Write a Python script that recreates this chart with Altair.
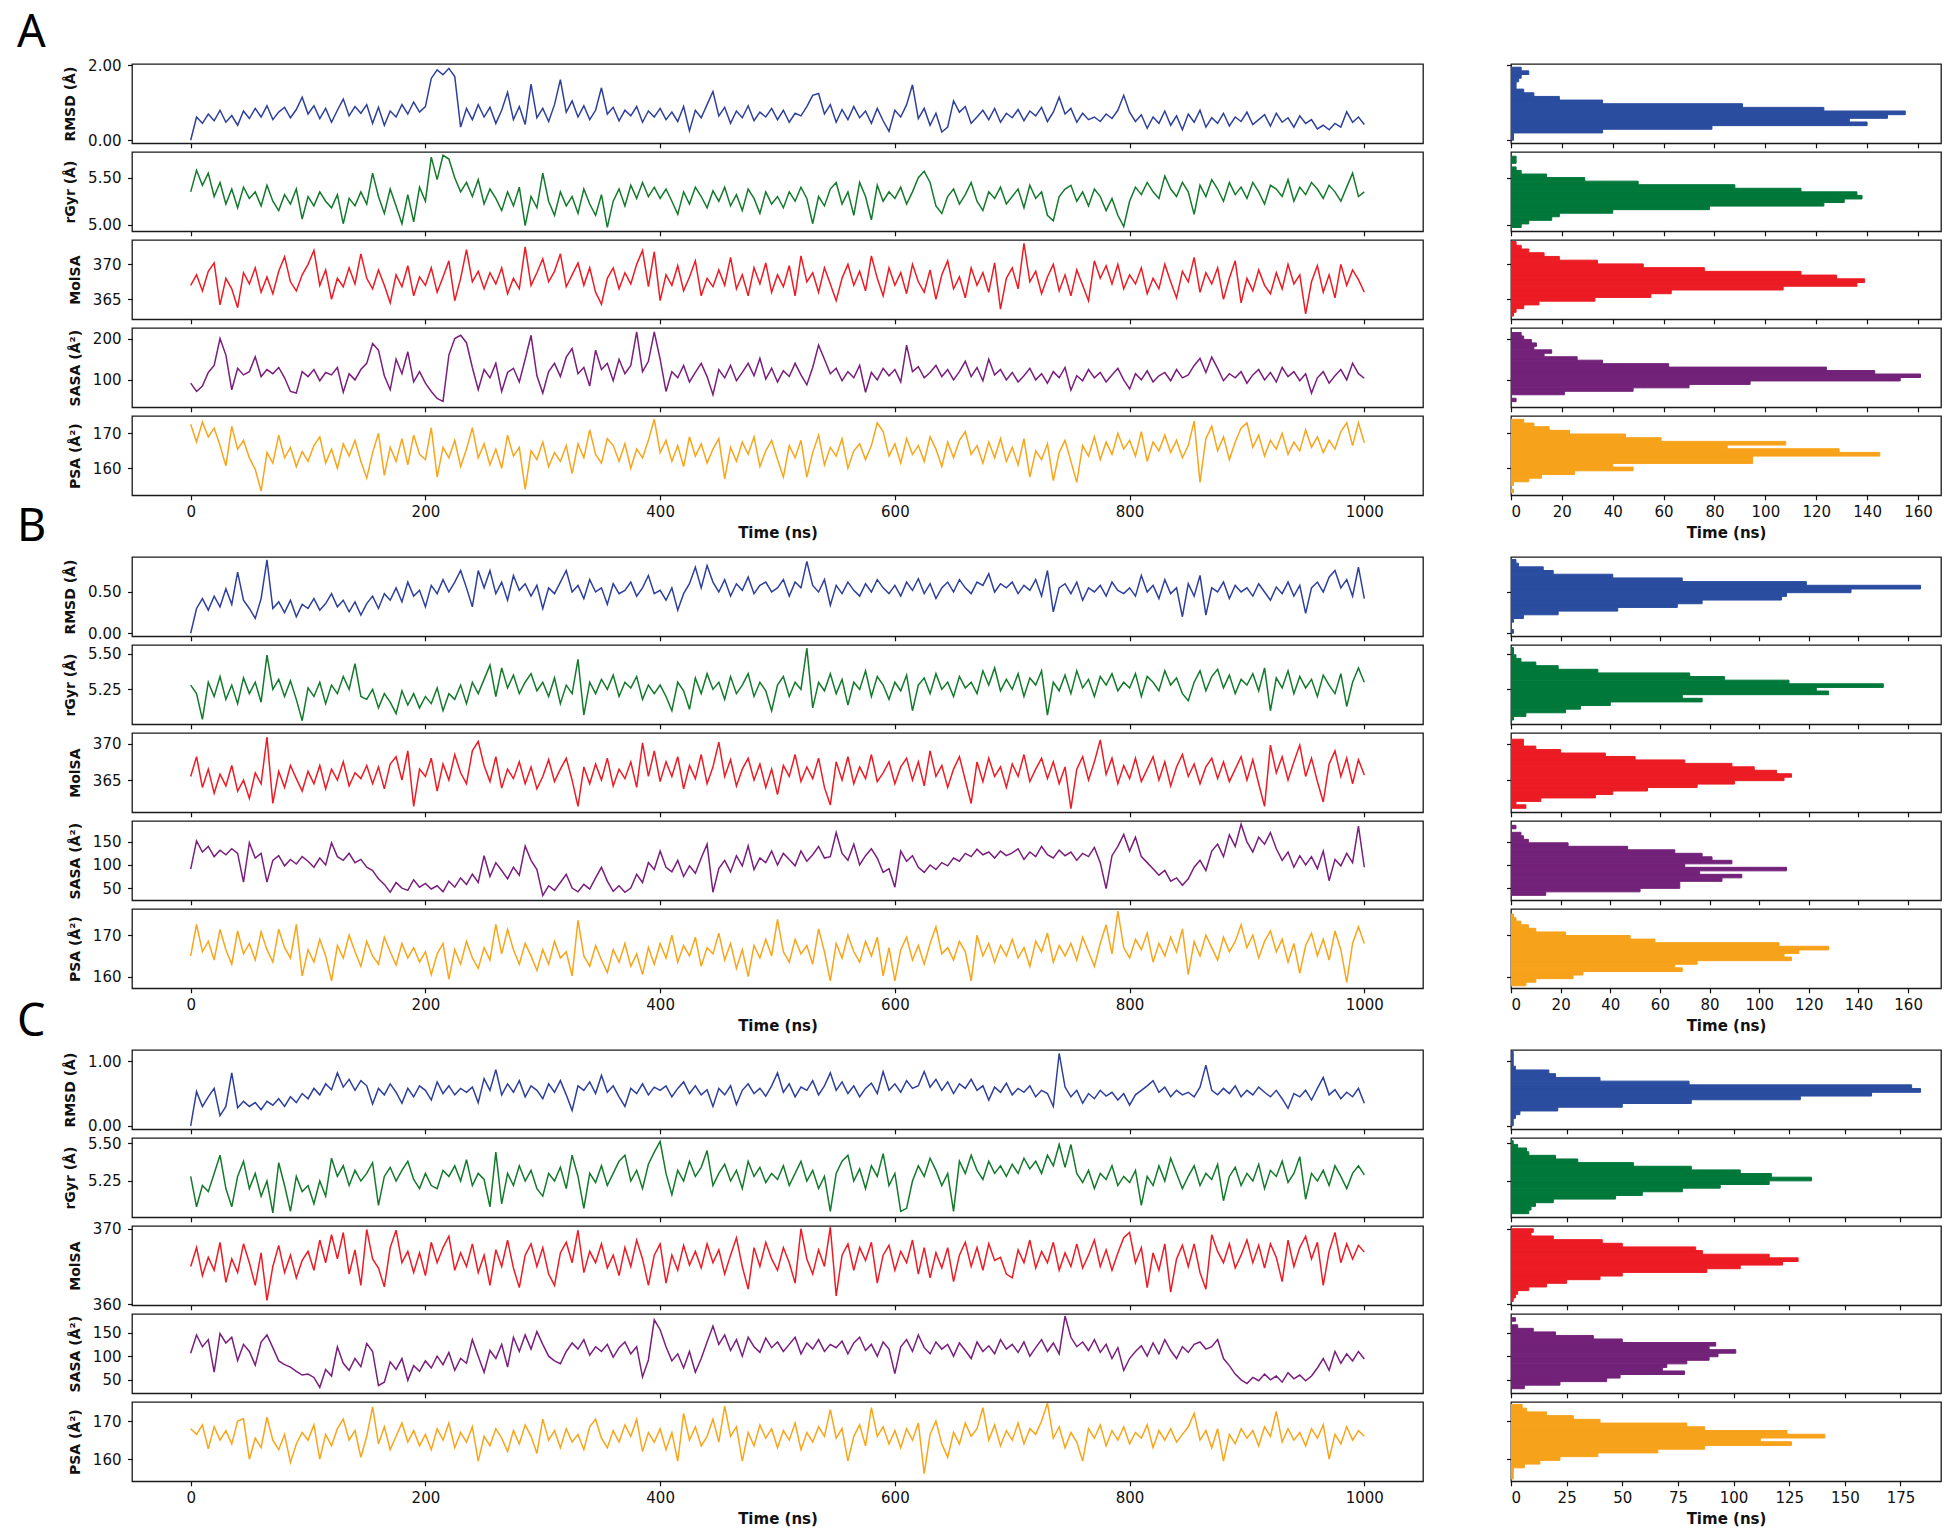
import altair as alt
import pandas as pd

# ---------------- time series (every 5 ns, 0..1000 ns) ----------------
A_RMSD = [
 0.00, 0.62, 0.45, 0.70, 0.52, 0.80, 0.48, 0.66, 0.40, 0.78,
 0.58, 0.85, 0.62, 0.92, 0.55, 0.75, 0.88, 0.60, 0.82, 1.15,
 0.70, 0.92, 0.58, 0.85, 0.48, 0.80, 1.10, 0.65, 0.90, 0.72,
 0.95, 0.45, 0.88, 0.40, 0.78, 0.62, 0.95, 0.70, 1.02, 0.75,
 0.90, 1.65, 1.88, 1.75, 1.92, 1.70, 0.35, 0.85, 0.55, 0.95,
 0.62, 0.88, 0.45, 0.80, 1.28, 0.55, 0.90, 0.42, 1.50, 0.60,
 0.85, 0.50, 0.95, 1.62, 0.75, 1.05, 0.62, 0.92, 0.55, 0.80,
 1.40, 0.70, 0.88, 0.52, 0.80, 0.65, 0.90, 0.48, 0.78, 0.62,
 0.85, 0.55, 0.75, 0.50, 0.90, 0.25, 0.80, 0.60, 0.95, 1.30,
 0.65, 0.88, 0.45, 0.78, 0.60, 0.92, 0.52, 0.75, 0.62, 0.85,
 0.55, 0.80, 0.48, 0.72, 0.65, 0.90, 1.20, 1.25, 0.70, 0.95,
 0.48, 0.82, 0.55, 0.90, 0.60, 0.78, 0.45, 0.85, 0.52, 0.24,
 0.80, 0.62, 0.95, 1.48, 0.58, 0.85, 0.40, 0.72, 0.22, 0.35,
 1.05, 0.75, 0.90, 0.45, 0.62, 0.80, 0.55, 0.85, 0.48, 0.72,
 0.60, 0.82, 0.52, 0.78, 0.65, 0.88, 0.50, 0.75, 1.15, 0.70,
 0.85, 0.48, 0.72, 0.55, 0.62, 0.50, 0.70, 0.58, 0.80, 1.20,
 0.75, 0.50, 0.68, 0.32, 0.62, 0.45, 0.78, 0.40, 0.65, 0.28,
 0.70, 0.48, 0.80, 0.35, 0.60, 0.45, 0.72, 0.38, 0.62, 0.50,
 0.75, 0.42, 0.55, 0.68, 0.38, 0.72, 0.48, 0.60, 0.35, 0.65,
 0.45, 0.55, 0.30, 0.40, 0.28, 0.45, 0.35, 0.76, 0.48, 0.62,
 0.42]
A_RGYR = [
 5.35, 5.58, 5.42, 5.55, 5.30, 5.45, 5.22, 5.38, 5.18, 5.40,
 5.28, 5.35, 5.20, 5.42, 5.25, 5.15, 5.32, 5.22, 5.38, 5.06,
 5.30, 5.20, 5.35, 5.25, 5.18, 5.32, 5.01, 5.28, 5.20, 5.35,
 5.22, 5.55, 5.30, 5.12, 5.38, 5.20, 5.01, 5.32, 5.03, 5.40,
 5.25, 5.72, 5.48, 5.74, 5.70, 5.50, 5.35, 5.45, 5.30, 5.48,
 5.22, 5.38, 5.28, 5.15, 5.35, 5.20, 5.40, 4.99, 5.30, 5.18,
 5.55, 5.25, 5.10, 5.35, 5.20, 5.30, 5.12, 5.38, 5.22, 5.10,
 5.32, 4.97, 5.25, 5.38, 5.20, 5.42, 5.28, 5.45, 5.30, 5.40,
 5.28, 5.38, 5.25, 5.11, 5.35, 5.22, 5.40, 5.30, 5.18, 5.36,
 5.25, 5.40, 5.20, 5.32, 5.15, 5.38, 5.28, 5.12, 5.35, 5.22,
 5.30, 5.18, 5.35, 5.25, 5.40, 5.28, 5.01, 5.30, 5.20, 5.38,
 5.45, 5.22, 5.35, 5.10, 5.45, 5.30, 5.05, 5.42, 5.25, 5.35,
 5.28, 5.40, 5.22, 5.35, 5.50, 5.57, 5.45, 5.20, 5.12, 5.30,
 5.38, 5.22, 5.32, 5.45, 5.25, 5.15, 5.35, 5.28, 5.40, 5.22,
 5.30, 5.38, 5.18, 5.42, 5.28, 5.35, 5.10, 5.04, 5.30, 5.38,
 5.42, 5.25, 5.35, 5.20, 5.38, 5.30, 5.15, 5.28, 5.10, 4.98,
 5.25, 5.40, 5.32, 5.45, 5.35, 5.28, 5.52, 5.38, 5.30, 5.45,
 5.35, 5.11, 5.42, 5.30, 5.48, 5.38, 5.25, 5.45, 5.32, 5.40,
 5.28, 5.45, 5.35, 5.22, 5.42, 5.38, 5.30, 5.48, 5.25, 5.40,
 5.32, 5.45, 5.38, 5.28, 5.42, 5.35, 5.25, 5.40, 5.55, 5.30,
 5.35]
A_MOLSA = [
 367.0, 368.5, 366.2, 369.0, 370.2, 364.2, 368.0, 366.5, 363.8, 368.8,
 367.2, 369.5, 366.0, 368.2, 365.8, 369.0, 371.1, 367.5, 366.2, 368.5,
 370.0, 372.0, 367.0, 369.2, 365.0, 368.0, 366.8, 369.5, 367.2, 371.5,
 368.0, 366.5, 369.2, 367.0, 364.5, 368.5, 366.8, 369.8, 365.5, 368.2,
 367.0, 369.5, 366.0, 368.2, 370.5, 364.8, 368.0, 372.1, 367.5, 369.0,
 366.5, 368.8, 367.2, 369.5, 365.8, 368.0, 366.5, 372.5, 367.0, 368.8,
 370.8, 367.5, 369.0, 371.5, 366.8, 368.5, 370.2, 367.0, 369.5, 366.0,
 364.3, 368.0, 369.5, 366.5, 368.8, 367.2, 370.0, 372.0, 366.8, 371.8,
 364.8, 368.5, 367.0, 369.8, 366.2, 368.2, 370.5, 365.5, 368.0, 366.8,
 369.2, 367.0, 371.0, 366.5, 368.5, 365.5, 369.5, 367.2, 370.2, 366.0,
 368.5, 366.8, 369.8, 365.5, 371.2, 367.5, 368.8, 366.0, 369.5, 367.2,
 364.8, 368.0, 370.0, 367.0, 369.0, 366.2, 371.2, 368.0, 365.5, 369.5,
 367.0, 368.8, 365.8, 370.0, 367.5, 366.0, 369.2, 365.0, 368.5, 370.5,
 366.5, 368.2, 365.2, 369.5, 367.0, 368.8, 366.0, 370.2, 363.6, 368.0,
 369.5, 366.5, 373.0, 367.5, 369.0, 365.8, 368.2, 370.0, 366.2, 368.5,
 365.5, 369.2, 367.0, 364.8, 370.5, 368.0, 369.8, 367.2, 370.0, 366.5,
 368.5, 367.2, 369.5, 365.8, 368.0, 366.5, 370.0, 367.5, 365.2, 369.0,
 367.5, 371.0, 366.0, 368.8, 367.2, 369.5, 365.0, 368.0, 370.5, 364.5,
 368.0, 366.2, 369.2, 367.0, 365.8, 368.8, 366.5, 370.0, 367.2, 368.5,
 362.9, 367.5, 369.8, 366.0, 368.5, 365.2, 370.0, 367.0, 369.2, 367.8,
 366.0]
A_SASA = [
 92, 72, 85, 118, 135, 200, 160, 76, 128, 112,
 120, 156, 108, 125, 115, 130, 105, 72, 68, 120,
 108, 125, 98, 118, 112, 130, 70, 115, 100, 125,
 140, 188, 172, 110, 76, 150, 115, 168, 95, 120,
 92, 72, 55, 48, 160, 200, 208, 190, 130, 76,
 125, 105, 140, 72, 118, 128, 95, 150, 208, 110,
 68, 120, 140, 108, 155, 176, 115, 130, 85, 172,
 125, 140, 98, 150, 115, 135, 216, 120, 145, 216,
 150, 72, 120, 105, 135, 95, 118, 140, 108, 64,
 125, 105, 135, 98, 118, 140, 110, 152, 102, 128,
 95, 122, 108, 140, 112, 88, 130, 184, 150, 115,
 128, 98, 120, 105, 135, 70, 118, 100, 128, 110,
 125, 95, 184, 120, 132, 105, 118, 135, 108, 125,
 100, 120, 145, 108, 130, 98, 150, 112, 125, 100,
 118, 95, 110, 128, 100, 115, 92, 120, 105, 130,
 75, 110, 98, 125, 105, 118, 95, 112, 128, 100,
 78, 115, 100, 122, 95, 110, 118, 98, 125, 105,
 112, 135, 152, 118, 155, 128, 98, 115, 105, 120,
 92, 112, 125, 100, 118, 95, 130, 108, 120, 98,
 115, 68, 105, 120, 92, 110, 125, 100, 140, 115,
 104]
A_PSA = [
 172.6, 167.5, 173.2, 169.0, 171.5, 166.5, 160.7, 172.0, 165.5, 168.0,
 163.0, 159.7, 153.5, 164.5, 161.5, 169.5, 163.0, 166.0, 160.5, 164.8,
 162.0, 166.5, 169.0, 161.5, 165.5, 160.0, 167.0, 163.5, 168.0, 162.0,
 157.2, 164.5, 170.0, 158.0, 166.0, 162.0, 168.5, 161.0, 169.5, 164.0,
 162.5, 171.6, 157.5, 166.0, 163.0, 168.0, 160.5, 165.5, 171.6, 163.0,
 167.0, 161.0, 165.5, 160.0, 169.5, 163.5, 166.0, 154.0, 165.0, 162.5,
 167.5, 160.5, 164.5, 162.0, 166.5, 158.5, 167.0, 163.0, 171.0, 164.0,
 161.5, 168.5, 166.5, 162.0, 167.0, 160.0, 165.5, 163.0, 168.0, 174.0,
 164.5, 168.0, 162.0, 166.5, 160.5, 169.0, 163.5, 167.0, 161.5, 165.5,
 168.5, 157.0, 166.0, 162.0, 167.5, 164.0, 169.0, 160.5, 165.0, 168.0,
 162.5, 157.5, 166.5, 163.0, 168.0, 157.5, 164.5, 169.5, 161.0, 166.0,
 163.5, 168.5, 160.0, 165.0, 167.0, 162.5, 166.5, 173.0, 170.5, 163.5,
 167.0, 161.5, 168.5, 164.0, 166.5, 162.0, 169.0, 165.5, 160.5, 167.5,
 163.0, 168.0, 170.5, 164.0, 166.5, 161.5, 167.5, 163.0, 168.5, 162.0,
 166.0, 161.0, 168.5, 157.5, 165.0, 162.5, 167.0, 156.5, 164.5, 168.0,
 162.0, 156.0, 166.5, 163.5, 169.0, 162.5, 167.5, 164.0, 170.0, 165.5,
 168.0, 163.5, 170.5, 162.0, 167.5, 165.0, 169.5, 164.5, 168.0, 163.0,
 166.5, 173.5, 156.0, 168.5, 172.0, 165.0, 169.0, 162.5, 167.5, 171.5,
 173.0, 166.0, 169.5, 163.5, 168.0, 165.5, 170.0, 164.0, 167.5, 165.0,
 171.0, 166.0, 169.0, 164.5, 168.0, 165.5, 170.5, 173.0, 166.5, 173.0,
 167.3]

B_RMSD = [
 0.00, 0.30, 0.42, 0.28, 0.45, 0.32, 0.54, 0.35, 0.74, 0.40,
 0.30, 0.18, 0.42, 0.89, 0.30, 0.38, 0.25, 0.40, 0.20, 0.35,
 0.30, 0.42, 0.28, 0.36, 0.48, 0.32, 0.40, 0.26, 0.38, 0.22,
 0.36, 0.45, 0.30, 0.48, 0.40, 0.55, 0.38, 0.62, 0.45, 0.52,
 0.32, 0.58, 0.48, 0.65, 0.50, 0.62, 0.76, 0.55, 0.32, 0.76,
 0.55, 0.76, 0.48, 0.62, 0.40, 0.70, 0.52, 0.60, 0.45, 0.58,
 0.30, 0.55, 0.48, 0.62, 0.76, 0.50, 0.58, 0.42, 0.65, 0.50,
 0.55, 0.35, 0.60, 0.48, 0.52, 0.62, 0.45, 0.55, 0.70, 0.48,
 0.52, 0.40, 0.55, 0.28, 0.48, 0.60, 0.80, 0.55, 0.82, 0.62,
 0.50, 0.65, 0.45, 0.60, 0.52, 0.68, 0.48, 0.58, 0.62, 0.50,
 0.55, 0.65, 0.45, 0.62, 0.55, 0.87, 0.58, 0.50, 0.65, 0.34,
 0.58, 0.48, 0.62, 0.52, 0.45, 0.60, 0.50, 0.65, 0.55, 0.48,
 0.58, 0.45, 0.62, 0.52, 0.66, 0.48, 0.60, 0.42, 0.55, 0.62,
 0.50, 0.65, 0.55, 0.48, 0.62, 0.58, 0.72, 0.50, 0.60, 0.55,
 0.62, 0.48, 0.58, 0.52, 0.65, 0.45, 0.76, 0.26, 0.55, 0.60,
 0.48, 0.62, 0.40, 0.55, 0.50, 0.58, 0.45, 0.62, 0.52, 0.48,
 0.55, 0.45, 0.70, 0.50, 0.58, 0.42, 0.65, 0.48, 0.55, 0.20,
 0.60, 0.45, 0.70, 0.22, 0.55, 0.50, 0.62, 0.42, 0.58, 0.50,
 0.55, 0.45, 0.60, 0.50, 0.40, 0.56, 0.48, 0.62, 0.45, 0.58,
 0.24, 0.55, 0.62, 0.50, 0.68, 0.76, 0.55, 0.65, 0.45, 0.80,
 0.42]
B_RGYR = [
 5.28, 5.22, 5.04, 5.30, 5.20, 5.34, 5.18, 5.28, 5.15, 5.33,
 5.22, 5.30, 5.16, 5.49, 5.25, 5.32, 5.20, 5.31, 5.18, 5.03,
 5.26, 5.20, 5.30, 5.15, 5.28, 5.22, 5.34, 5.25, 5.43, 5.20,
 5.18, 5.25, 5.12, 5.22, 5.16, 5.08, 5.24, 5.14, 5.22, 5.12,
 5.20, 5.15, 5.26, 5.10, 5.22, 5.18, 5.28, 5.15, 5.30, 5.22,
 5.32, 5.42, 5.20, 5.40, 5.26, 5.35, 5.22, 5.30, 5.36, 5.24,
 5.30, 5.20, 5.33, 5.15, 5.28, 5.22, 5.46, 5.07, 5.30, 5.22,
 5.32, 5.25, 5.35, 5.20, 5.30, 5.26, 5.34, 5.18, 5.28, 5.22,
 5.28, 5.20, 5.10, 5.30, 5.24, 5.11, 5.33, 5.22, 5.36, 5.25,
 5.30, 5.18, 5.34, 5.22, 5.28, 5.36, 5.20, 5.30, 5.24, 5.10,
 5.28, 5.34, 5.20, 5.30, 5.25, 5.54, 5.12, 5.30, 5.24, 5.36,
 5.22, 5.32, 5.14, 5.30, 5.25, 5.38, 5.20, 5.34, 5.28, 5.18,
 5.30, 5.24, 5.35, 5.10, 5.28, 5.33, 5.22, 5.36, 5.25, 5.30,
 5.20, 5.34, 5.26, 5.30, 5.22, 5.38, 5.28, 5.40, 5.24, 5.32,
 5.25, 5.36, 5.20, 5.33, 5.28, 5.38, 5.07, 5.30, 5.24, 5.35,
 5.22, 5.38, 5.26, 5.32, 5.20, 5.34, 5.28, 5.36, 5.24, 5.30,
 5.26, 5.36, 5.20, 5.34, 5.30, 5.24, 5.38, 5.28, 5.33, 5.22,
 5.17, 5.30, 5.38, 5.24, 5.34, 5.39, 5.26, 5.35, 5.22, 5.32,
 5.28, 5.36, 5.24, 5.40, 5.10, 5.33, 5.26, 5.38, 5.22, 5.34,
 5.26, 5.32, 5.20, 5.35, 5.28, 5.22, 5.36, 5.13, 5.30, 5.40,
 5.30]
B_MOLSA = [
 365.5, 368.2, 364.0, 366.5, 363.2, 365.8, 364.2, 367.0, 363.5, 365.0,
 362.5, 366.0, 364.5, 370.9, 361.8, 366.2, 364.0, 367.0, 365.2, 363.5,
 366.2, 364.5, 367.0, 363.8, 366.5, 365.0, 367.5, 364.2, 366.0, 365.2,
 367.0, 364.5, 366.8, 363.8, 367.2, 368.2, 365.0, 369.0, 361.4, 366.5,
 365.5, 368.0, 363.5, 367.2, 365.0, 368.5, 366.0, 364.5, 369.0, 370.3,
 367.0, 364.8, 368.2, 363.9, 366.5, 365.2, 367.5, 364.5, 366.8, 363.8,
 365.5, 367.8, 364.8, 366.5, 368.0, 365.0, 361.4, 366.8, 364.5, 367.2,
 365.0, 368.0, 364.2, 366.5, 365.2, 367.5, 364.0, 370.1, 365.5, 369.0,
 364.8, 367.5, 365.5, 368.2, 363.8, 367.0, 365.2, 368.5, 364.5, 366.8,
 370.2, 365.5, 367.8, 364.2, 366.5, 368.0, 365.0, 367.2, 364.0, 366.5,
 363.0, 367.0, 365.5, 368.5, 364.8, 366.8, 365.2, 368.0, 364.0, 361.6,
 367.5, 365.0, 368.2, 364.5, 366.8, 365.2, 368.5, 364.8, 366.0, 367.5,
 364.5, 366.8, 368.0, 365.0, 367.5, 364.2, 369.0, 365.5, 367.0, 364.0,
 366.5, 368.2, 365.0, 361.8, 367.5, 364.8, 368.0, 365.5, 366.8, 364.0,
 367.2, 365.5, 368.5, 364.8, 366.5, 368.0, 365.2, 367.5, 364.5, 366.8,
 361.1, 366.5, 368.2, 365.0, 367.5, 370.5, 365.8, 368.0, 364.5, 367.0,
 365.2, 368.0, 364.8, 366.5, 368.2, 365.0, 367.5, 364.2, 366.8, 368.5,
 365.5, 367.2, 364.5, 366.8, 368.0, 365.2, 367.5, 364.8, 366.5, 368.2,
 365.0, 367.8, 364.5, 361.4, 369.8, 366.0, 368.2, 365.0, 367.5, 369.8,
 365.5, 368.0, 364.8, 362.0, 367.2, 369.0, 365.5, 368.0, 364.5, 367.8,
 365.7]
B_SASA = [
 91, 152, 128, 140, 118, 132, 122, 135, 125, 63,
 148, 115, 125, 63, 110, 120, 98, 112, 102, 118,
 108, 95, 115, 100, 148, 118, 110, 125, 105, 112,
 95, 88, 70, 58, 41, 62, 50, 45, 68, 52,
 60, 48, 55, 42, 65, 52, 72, 58, 80, 62,
 120, 75, 105, 88, 70, 95, 78, 141, 110, 90,
 34, 55, 45, 62, 80, 50, 42, 58, 48, 72,
 95, 65, 43, 55, 41, 50, 80, 62, 105, 90,
 130, 95, 85, 110, 75, 98, 82, 115, 145, 41,
 92, 110, 85, 120, 98, 141, 90, 115, 105, 130,
 100, 125, 112, 98, 130, 108, 122, 140, 115, 118,
 170, 125, 110, 145, 100, 120, 135, 115, 84, 92,
 52, 130, 108, 120, 95, 84, 100, 90, 105, 98,
 115, 108, 125, 118, 134, 122, 128, 115, 130, 120,
 126, 135, 112, 128, 118, 140, 122, 115, 132, 120,
 128, 110, 125, 118, 138, 105, 49, 120, 140, 166,
 130, 160, 118, 105, 92, 78, 88, 65, 72, 56,
 70, 95, 110, 88, 130, 145, 118, 165, 140, 188,
 150, 128, 160, 145, 170, 135, 110, 128, 95, 120,
 100, 118, 92, 130, 66, 112, 98, 125, 105, 184,
 95]
B_PSA = [
 165.0, 172.6, 166.0, 168.5, 164.0, 171.4, 166.5, 163.0, 171.0, 165.5,
 168.0, 164.0, 170.8, 166.5, 163.5, 171.4, 167.0, 164.5, 172.6, 160.2,
 166.5, 163.5, 169.0, 165.0, 159.0, 167.5, 164.5, 170.0, 166.0, 162.5,
 168.5, 165.0, 163.0, 169.5, 166.0, 162.8, 168.0, 164.5, 167.0, 163.5,
 166.0, 160.5, 165.5, 168.0, 159.4, 166.5, 163.0, 168.5, 164.5, 162.0,
 167.0, 164.0, 172.6, 165.5, 171.4, 166.5, 163.0, 168.0, 165.0, 161.5,
 166.5, 163.0, 168.5, 164.5, 166.0, 160.2, 173.6, 165.0, 162.5, 167.5,
 164.0, 161.0, 166.5, 163.5, 168.0, 162.5, 165.5, 160.5, 167.0, 163.0,
 168.0, 164.5, 170.0, 163.5, 167.5, 165.0, 169.5, 162.5, 167.0, 165.5,
 170.5, 164.0, 168.0, 162.0, 166.5, 160.0, 167.5, 164.5, 169.0, 165.0,
 173.8, 166.0, 163.5, 169.0, 165.5, 167.5, 163.0, 171.5, 166.0, 159.0,
 168.0, 164.5, 170.0, 166.0, 163.5, 168.5, 165.0, 169.5, 160.2, 167.0,
 159.0, 166.5, 169.5, 164.0, 167.5, 163.0, 168.0, 172.0, 165.5, 167.0,
 164.0, 168.5, 166.0, 159.0, 170.0, 165.0, 168.0, 163.5, 167.5, 165.0,
 169.0, 164.5, 167.0, 162.5, 168.5, 166.0, 170.5, 163.5, 167.5, 165.0,
 168.0, 164.0, 169.5, 166.0, 162.5, 168.0, 172.5, 165.5, 175.8, 167.0,
 164.5, 169.0, 166.5, 170.5, 163.5, 168.0, 165.0, 169.5, 166.0, 171.5,
 160.5, 168.5, 165.0, 170.0, 167.0, 164.0, 169.5, 166.0, 168.5, 172.5,
 167.0, 170.0, 164.5, 168.5, 171.0, 166.0, 169.0, 163.5, 168.0, 160.8,
 167.5, 170.5, 165.0, 169.0, 164.0, 171.0, 166.5, 158.6, 168.0, 172.0,
 168.0]

C_RMSD = [
 0.00, 0.53, 0.30, 0.45, 0.58, 0.16, 0.30, 0.82, 0.28, 0.38,
 0.30, 0.36, 0.25, 0.38, 0.32, 0.42, 0.30, 0.45, 0.36, 0.50,
 0.42, 0.58, 0.48, 0.65, 0.56, 0.82, 0.60, 0.72, 0.55, 0.70,
 0.62, 0.34, 0.58, 0.48, 0.65, 0.52, 0.35, 0.58, 0.45, 0.62,
 0.55, 0.40, 0.68, 0.50, 0.62, 0.48, 0.58, 0.52, 0.60, 0.36,
 0.73, 0.55, 0.87, 0.48, 0.65, 0.52, 0.70, 0.45, 0.62, 0.55,
 0.42, 0.65, 0.52, 0.70, 0.48, 0.24, 0.62, 0.55, 0.68, 0.50,
 0.78, 0.52, 0.62, 0.45, 0.30, 0.58, 0.50, 0.65, 0.48, 0.60,
 0.55, 0.62, 0.45, 0.58, 0.68, 0.50, 0.62, 0.48, 0.56, 0.30,
 0.58, 0.48, 0.62, 0.33, 0.55, 0.65, 0.50, 0.58, 0.46, 0.62,
 0.82, 0.52, 0.65, 0.45, 0.60, 0.55, 0.70, 0.48, 0.62, 0.82,
 0.55, 0.68, 0.50, 0.62, 0.45, 0.58, 0.66, 0.50, 0.84, 0.55,
 0.65, 0.52, 0.70, 0.58, 0.62, 0.84, 0.60, 0.72, 0.55, 0.68,
 0.50, 0.65, 0.58, 0.72, 0.55, 0.62, 0.40, 0.60, 0.52, 0.66,
 0.48, 0.58, 0.52, 0.62, 0.45, 0.55, 0.50, 0.30, 1.12, 0.60,
 0.45, 0.55, 0.35, 0.50, 0.42, 0.55, 0.46, 0.52, 0.40, 0.50,
 0.32, 0.48, 0.55, 0.62, 0.70, 0.52, 0.60, 0.45, 0.55, 0.48,
 0.52, 0.45, 0.60, 0.94, 0.55, 0.48, 0.58, 0.50, 0.62, 0.45,
 0.55, 0.48, 0.60, 0.52, 0.45, 0.55, 0.42, 0.27, 0.50, 0.45,
 0.55, 0.40, 0.58, 0.75, 0.48, 0.56, 0.42, 0.52, 0.45, 0.58,
 0.35]
C_RGYR = [
 5.28, 5.08, 5.22, 5.18, 5.30, 5.42, 5.20, 5.08, 5.28, 5.38,
 5.20, 5.30, 5.15, 5.25, 5.04, 5.37, 5.22, 5.05, 5.28, 5.18,
 5.22, 5.10, 5.25, 5.15, 5.40, 5.28, 5.35, 5.22, 5.32, 5.25,
 5.30, 5.37, 5.09, 5.28, 5.34, 5.25, 5.32, 5.38, 5.26, 5.20,
 5.30, 5.22, 5.20, 5.32, 5.28, 5.35, 5.25, 5.39, 5.22, 5.30,
 5.26, 5.08, 5.44, 5.10, 5.30, 5.22, 5.35, 5.25, 5.32, 5.20,
 5.15, 5.30, 5.25, 5.34, 5.20, 5.42, 5.28, 5.07, 5.30, 5.24,
 5.35, 5.22, 5.30, 5.38, 5.42, 5.25, 5.32, 5.20, 5.36, 5.44,
 5.51, 5.30, 5.16, 5.32, 5.25, 5.38, 5.28, 5.34, 5.45, 5.22,
 5.30, 5.36, 5.25, 5.32, 5.20, 5.38, 5.28, 5.34, 5.24, 5.30,
 5.26, 5.35, 5.22, 5.30, 5.38, 5.25, 5.32, 5.20, 5.28, 5.05,
 5.30, 5.38, 5.42, 5.25, 5.33, 5.20, 5.35, 5.28, 5.43, 5.22,
 5.30, 5.05, 5.07, 5.25, 5.35, 5.28, 5.40, 5.32, 5.22, 5.30,
 5.05, 5.38, 5.30, 5.42, 5.32, 5.26, 5.38, 5.30, 5.35, 5.28,
 5.36, 5.30, 5.40, 5.33, 5.38, 5.30, 5.42, 5.35, 5.49, 5.34,
 5.49, 5.30, 5.24, 5.32, 5.20, 5.30, 5.26, 5.35, 5.22, 5.28,
 5.24, 5.32, 5.09, 5.28, 5.22, 5.35, 5.25, 5.40, 5.30, 5.20,
 5.28, 5.35, 5.22, 5.30, 5.26, 5.36, 5.12, 5.28, 5.34, 5.22,
 5.30, 5.25, 5.36, 5.20, 5.32, 5.28, 5.38, 5.24, 5.30, 5.41,
 5.13, 5.30, 5.25, 5.32, 5.22, 5.35, 5.28, 5.20, 5.30, 5.35,
 5.29]
C_MOLSA = [
 365.0, 367.5, 363.8, 366.2, 364.5, 368.2, 362.9, 366.0, 364.2, 368.0,
 365.5, 362.5, 366.8, 360.5, 365.0, 367.8, 364.2, 366.5, 363.5, 365.8,
 367.0, 364.5, 368.5, 365.5, 369.2, 366.0, 369.5, 364.0, 367.2, 362.5,
 369.9, 366.0, 364.8, 362.3, 367.5, 369.8, 365.5, 367.0, 364.2, 366.8,
 363.8, 368.2, 365.5, 367.5, 369.0, 364.5, 366.8, 365.0, 368.0, 364.2,
 366.5, 362.5, 367.2, 365.0, 368.5, 364.8, 362.2, 366.5, 368.0, 365.0,
 367.5, 364.0, 362.5, 366.8, 368.2, 365.5, 369.8, 364.2, 367.0, 365.5,
 368.0, 364.8, 366.5, 363.8, 367.5, 365.0, 368.5, 366.0, 362.5, 366.5,
 368.0, 362.8, 366.5, 364.5, 367.8, 365.2, 367.0, 364.8, 368.0, 365.5,
 367.2, 364.0, 366.5, 368.8, 365.0, 362.0, 367.5, 365.0, 368.2, 366.0,
 364.5, 367.5, 365.5, 362.8, 370.0, 366.0, 364.0, 367.2, 365.0, 370.2,
 361.1, 366.5, 368.0, 364.5, 367.5, 365.8, 368.2, 362.8, 366.5, 367.8,
 364.5, 367.0, 365.5, 368.5, 364.0, 367.5, 363.5, 366.8, 364.8, 367.5,
 363.0, 366.5, 368.2, 365.0, 367.5, 364.5, 368.0, 365.8, 366.2, 364.0,
 363.5, 367.2, 365.5, 368.5, 364.8, 367.0, 365.5, 368.2, 364.5, 366.8,
 365.0, 368.0, 364.8, 366.5, 368.5, 365.0, 367.2, 364.5, 366.8, 368.8,
 369.5, 365.5, 367.5, 362.2, 366.8, 364.5, 368.0, 361.6, 366.0, 367.8,
 365.0, 368.0, 364.2, 362.0, 369.2, 367.0, 365.5, 368.0, 364.8, 366.5,
 368.5, 365.5, 367.8, 364.8, 368.0, 366.2, 363.0, 368.5, 365.0, 367.5,
 369.0, 366.0, 368.2, 362.5, 367.0, 369.5, 365.5, 368.0, 366.0, 367.8,
 366.9]
C_SASA = [
 106, 145, 120, 135, 66, 148, 128, 140, 91, 125,
 110, 81, 130, 145, 118, 90, 82, 77, 68, 60,
 62, 55, 34, 72, 58, 120, 85, 70, 95, 78,
 127, 110, 38, 45, 88, 72, 95, 49, 80, 68,
 90, 75, 100, 82, 108, 70, 95, 85, 135, 100,
 66, 112, 95, 125, 77, 140, 110, 145, 115, 152,
 125, 100, 90, 84, 110, 128, 115, 135, 102, 120,
 110, 125, 98, 118, 130, 105, 120, 56, 92, 177,
 156, 120, 90, 105, 75, 110, 66, 95, 130, 164,
 125, 145, 112, 135, 100, 140, 120, 108, 138, 118,
 130, 110, 125, 140, 105, 128, 115, 135, 110, 125,
 118, 132, 105, 128, 140, 112, 125, 100, 130, 115,
 63, 120, 135, 110, 145, 118, 105, 130, 115, 125,
 100, 128, 112, 95, 130, 110, 122, 105, 135, 115,
 125, 108, 130, 100, 118, 135, 110, 128, 105, 185,
 140, 120, 130, 112, 135, 108, 125, 95, 118, 70,
 95, 110, 122, 100, 128, 105, 135, 112, 95, 120,
 108, 125, 130, 115, 120, 135, 95, 80, 62, 50,
 42, 55, 48, 62, 50, 58, 45, 65, 52, 60,
 48, 58, 75, 95, 70, 110, 85, 105, 90, 110,
 94]
C_PSA = [
 168.0, 166.5, 169.0, 162.7, 168.5, 165.0, 167.5, 164.0, 170.0, 170.6,
 160.0, 165.5, 163.0, 171.0, 165.0, 162.5, 166.5, 159.1, 164.0, 167.0,
 165.0, 169.0, 160.0, 166.5, 163.5, 168.0, 170.5, 165.0, 167.5, 160.5,
 166.0, 173.7, 164.0, 168.5, 162.5, 166.0, 169.5, 164.5, 167.5, 163.5,
 166.5, 162.5, 168.0, 165.0, 169.5, 163.0, 167.0, 164.5, 168.5, 159.5,
 166.0, 163.5, 168.0, 165.5, 162.0, 167.5, 164.0, 169.0, 166.0, 161.5,
 170.5, 165.0, 167.5, 163.0, 168.0, 164.5, 166.5, 162.5, 168.5, 170.5,
 165.5, 163.0, 167.5, 164.5, 169.0, 166.0, 170.5, 162.0, 167.0, 164.5,
 168.0, 162.5, 167.0, 159.5, 172.0, 165.0, 168.5, 163.5, 166.0, 170.5,
 164.5, 173.9, 166.0, 168.5, 159.5, 167.0, 163.5, 169.0, 165.5, 168.0,
 163.0, 167.5, 165.0, 169.5, 162.5, 167.0, 164.5, 168.5, 166.0, 173.0,
 165.5, 168.0, 159.5, 166.0, 169.0, 163.5, 173.5, 166.0, 168.5, 164.0,
 167.5, 163.0, 168.0, 165.0, 169.5, 156.2, 166.5, 170.0, 164.0, 160.5,
 167.0, 164.0, 169.5, 166.0, 168.0, 173.5, 165.0, 169.0, 163.5, 167.5,
 165.0, 169.5, 164.0, 168.0, 166.5, 170.0, 174.7, 165.5, 168.5, 163.0,
 167.0, 164.5, 159.5, 168.0, 165.5, 169.0, 163.5, 167.5, 165.0, 168.5,
 164.0, 167.0, 165.5, 169.0, 163.0, 167.5, 165.0, 168.0, 164.5, 166.5,
 168.5, 172.0, 165.0, 167.5, 163.0, 168.0, 159.5, 166.5, 164.0, 168.0,
 165.5, 167.5, 163.5, 168.5, 166.0, 172.5, 164.5, 168.0, 165.0, 167.0,
 163.5, 168.0, 165.5, 169.0, 160.0, 166.5, 164.0, 168.5, 165.0, 167.5,
 166.0]

# ---------------- histograms: counts per bin (bottom -> top) ----------------
A_RMSD_HIST = [1, 1, 36, 79, 140, 133, 148, 155, 123, 91, 36, 19, 9, 5, 2, 2, 3, 4, 7, 4]
A_RGYR_HIST = [4, 7, 16, 19, 40, 78, 123, 131, 138, 136, 114, 88, 50, 29, 14, 4, 2, 0, 2, 2]
A_MOLSA_HIST = [1, 2, 5, 11, 33, 55, 63, 107, 136, 139, 128, 114, 76, 52, 34, 19, 13, 7, 4, 2]
A_SASA_HIST = [2, 0, 21, 48, 70, 94, 153, 161, 143, 124, 62, 36, 26, 13, 16, 9, 10, 8, 5, 4]
A_PSA_HIST = [1, 0, 1, 7, 12, 25, 48, 40, 95, 95, 145, 129, 85, 108, 59, 45, 23, 15, 9, 5]

B_RMSD_HIST = [1, 0, 0, 1, 5, 19, 43, 67, 77, 109, 111, 137, 165, 119, 69, 41, 17, 13, 3, 2]
B_RGYR_HIST = [1, 6, 22, 28, 40, 77, 69, 128, 123, 150, 112, 86, 72, 35, 19, 10, 4, 2, 1, 1]
B_MOLSA_HIST = [6, 2, 12, 34, 41, 55, 75, 90, 110, 113, 107, 98, 89, 70, 50, 38, 20, 10, 5, 5]
B_SASA_HIST = [14, 52, 68, 68, 85, 93, 76, 111, 70, 89, 81, 77, 66, 47, 23, 7, 5, 4, 0, 2]
B_PSA_HIST = [6, 10, 25, 29, 69, 66, 75, 113, 110, 116, 128, 108, 58, 48, 22, 10, 7, 4, 2, 1]

C_RMSD_HIST = [1, 1, 2, 4, 21, 50, 81, 130, 162, 184, 180, 80, 40, 20, 17, 2, 1, 1, 1, 1]
C_RGYR_HIST = [8, 9, 11, 19, 47, 59, 77, 94, 116, 135, 117, 103, 81, 55, 30, 20, 8, 7, 3, 1]
C_MOLSA_HIST = [1, 2, 3, 8, 16, 25, 40, 50, 88, 103, 122, 129, 116, 86, 83, 50, 41, 19, 9, 10]
C_SASA_HIST = [6, 22, 43, 49, 78, 68, 70, 79, 89, 93, 101, 89, 92, 50, 37, 20, 10, 3, 0, 2]
C_PSA_HIST = [1, 1, 1, 6, 13, 22, 39, 66, 87, 126, 112, 141, 124, 87, 79, 40, 28, 16, 7, 5]

# bin start and bin width of each histogram
A_HIST_START = [0.0, 4.97, 362.6, 47.2, 153.0]
A_HIST_WIDTH = [0.0975, 0.038, 0.533, 8.37, 1.05]
B_HIST_START = [0.0, 5.035, 361.14, 34.3, 157.8]
B_HIST_WIDTH = [0.0447, 0.0254, 0.473, 7.57, 0.865]
C_HIST_START = [0.0, 5.035, 360.36, 31.1, 154.8]
C_HIST_WIDTH = [0.0577, 0.024, 0.482, 7.52, 0.978]

# y ranges and tick values of the rows
A_YDOM = [[-0.082, 2.036], [4.929, 5.775], [362.14, 373.48], [33.6, 225.6], [152.3, 174.95]]
B_YDOM = [[-0.037, 0.924], [5.005, 5.561], [360.59, 371.45], [23.6, 195.0], [157.2, 176.3]]
C_YDOM = [[-0.053, 1.174], [5.011, 5.533], [359.86, 370.36], [21.4, 189.3], [154.2, 175.0]]
A_YTICKS = [[0, 2], [5.0, 5.5], [365, 370], [100, 200], [160, 170]]
B_YTICKS = [[0, 0.5], [5.25, 5.5], [365, 370], [50, 100, 150], [160, 170]]
C_YTICKS = [[0, 1], [5.25, 5.5], [360, 370], [50, 100, 150], [160, 170]]

TIME_TICKS = [0, 200, 400, 600, 800, 1000]
HIST_TICKS_AB = [0, 20, 40, 60, 80, 100, 120, 140, 160]
HIST_TICKS_C = [0, 25, 50, 75, 100, 125, 150, 175]

METRIC_TITLES = ["RMSD (Å)", "rGyr (Å)", "MolSA", "SASA (Å²)", "PSA (Å²)"]
METRIC_FORMATS = [".2f", ".2f", "d", "d", "d"]
LINE_COLORS = ["#2E409C", "#137A2C", "#EC1C24", "#7A1F7D", "#F8A51B"]
HIST_COLORS = ["#2B4DA0", "#00783A", "#EC1C24", "#732279", "#F7A21B"]

PANELS = [
    dict(letter="A", letter_y=-17,
         series=[A_RMSD, A_RGYR, A_MOLSA, A_SASA, A_PSA],
         hists=[A_RMSD_HIST, A_RGYR_HIST, A_MOLSA_HIST, A_SASA_HIST, A_PSA_HIST],
         hstart=A_HIST_START, hwidth=A_HIST_WIDTH, ydom=A_YDOM, yticks=A_YTICKS,
         hticks=HIST_TICKS_AB),
    dict(letter="B", letter_y=-16,
         series=[B_RMSD, B_RGYR, B_MOLSA, B_SASA, B_PSA],
         hists=[B_RMSD_HIST, B_RGYR_HIST, B_MOLSA_HIST, B_SASA_HIST, B_PSA_HIST],
         hstart=B_HIST_START, hwidth=B_HIST_WIDTH, ydom=B_YDOM, yticks=B_YTICKS,
         hticks=HIST_TICKS_AB),
    dict(letter="C", letter_y=-14,
         series=[C_RMSD, C_RGYR, C_MOLSA, C_SASA, C_PSA],
         hists=[C_RMSD_HIST, C_RGYR_HIST, C_MOLSA_HIST, C_SASA_HIST, C_PSA_HIST],
         hstart=C_HIST_START, hwidth=C_HIST_WIDTH, ydom=C_YDOM, yticks=C_YTICKS,
         hticks=HIST_TICKS_C),
]

FONT = "DejaVu Sans"
TS_W, H_W, ROW_H = 1291, 430, 79.3
SPACER_H = 44.5
FRAME = alt.ViewBackground(stroke="#1a1a1a", strokeWidth=1.3, fill="white")


def axis(**kw):
    base = dict(grid=False, domain=False, tickColor="#111", tickWidth=1.2, tickSize=4.5,
                labelFont=FONT, labelFontSize=15, labelColor="#111", labelPadding=5,
                titleFont=FONT, titleFontWeight="bold", titleColor="#111")
    base.update(kw)
    return alt.Axis(**base)


def ts_chart(panel, i, last):
    vals = panel["series"][i]
    n = len(vals)
    df = pd.DataFrame({"t": [k * 1000.0 / (n - 1) for k in range(n)], "v": vals})
    if last:
        xax = axis(values=TIME_TICKS, format="d", title="Time (ns)", titleFontSize=15, titlePadding=6)
    else:
        xax = axis(values=TIME_TICKS, labels=False, title=None)
    yax = axis(values=panel["yticks"][i], format=METRIC_FORMATS[i], title=METRIC_TITLES[i],
               titleFontSize=14, titlePadding=10, labelPadding=6.5)
    line = alt.Chart(df).mark_line(color=LINE_COLORS[i], strokeWidth=1.5, clip=True).encode(
        x=alt.X("t:Q", scale=alt.Scale(domain=[-50, 1050], nice=False, zero=False), axis=xax),
        y=alt.Y("v:Q", scale=alt.Scale(domain=panel["ydom"][i], nice=False, zero=False), axis=yax),
    )
    ch = line
    if i == 0:
        lab = alt.Chart(pd.DataFrame({"s": [panel["letter"]]})).mark_text(
            align="left", baseline="alphabetic", font="Noto Sans", fontSize=45, color="#000"
        ).encode(text="s:N", x=alt.value(-115), y=alt.value(panel["letter_y"]))
        ch = alt.layer(line, lab)
    return ch.properties(width=TS_W, height=ROW_H, view=FRAME)


def hist_chart(panel, i, last):
    counts = panel["hists"][i]
    s, w = panel["hstart"][i], panel["hwidth"][i]
    n = len(counts)
    df = pd.DataFrame({
        "lo": [s + k * w for k in range(n)],
        "hi": [s + (k + 1) * w for k in range(n)],
        "c": counts,
        "z": [0] * n,
    })
    xmax = 1.05 * max(max(h) for h in panel["hists"])
    if last:
        xax = axis(values=panel["hticks"], format="d", title="Time (ns)", titleFontSize=15, titlePadding=6)
    else:
        xax = axis(values=panel["hticks"], labels=False, title=None)
    yax = axis(values=panel["yticks"][i], labels=False, title=None)
    return alt.Chart(df).mark_rect(color=HIST_COLORS[i], stroke=HIST_COLORS[i],
                                   strokeWidth=1.0, clip=True).encode(
        x=alt.X("z:Q", scale=alt.Scale(domain=[0, xmax], nice=False, zero=False), axis=xax),
        x2="c:Q",
        y=alt.Y("lo:Q", scale=alt.Scale(domain=panel["ydom"][i], nice=False, zero=False), axis=yax),
        y2="hi:Q",
    ).properties(width=H_W, height=ROW_H, view=FRAME)


def spacer(wd):
    return alt.Chart(pd.DataFrame({"z": [0]})).mark_point(opacity=0).encode(
        x=alt.value(0), y=alt.value(0)
    ).properties(width=wd, height=SPACER_H, view=alt.ViewBackground(strokeOpacity=0))


cells = []
for pi, panel in enumerate(PANELS):
    if pi > 0:
        cells += [spacer(TS_W), spacer(H_W)]
    for i in range(5):
        last = (i == 4)
        cells += [ts_chart(panel, i, last), hist_chart(panel, i, last)]

chart = alt.concat(*cells, columns=2, spacing={"row": 8, "column": 88}, bounds="flush").properties(
    padding={"left": 16, "top": 10, "right": 5, "bottom": 5}
).configure(background="white")

chart.save("out.html", embed_options={"renderer": "svg", "actions": False})
